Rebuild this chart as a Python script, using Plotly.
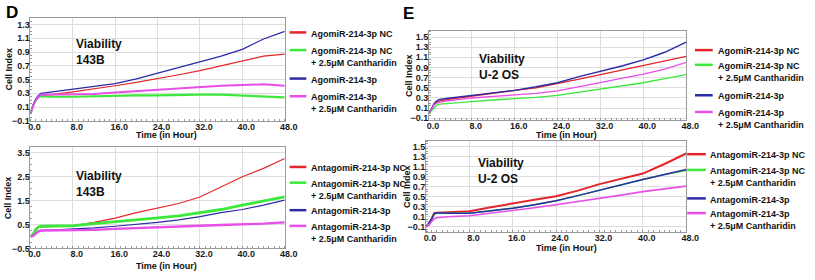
import plotly.graph_objects as go

# ---------------- data ----------------
hours = [0, 0.5, 1, 1.5, 2, 4, 8, 12, 16, 20, 24, 28, 32, 36, 40, 44, 48]

names_ago = ["AgomiR-214-3p NC", "AgomiR-214-3p NC<br>+ 2.5μM Cantharidin",
             "AgomiR-214-3p", "AgomiR-214-3p<br>+ 2.5μM Cantharidin"]
names_anta = ["AntagomiR-214-3p NC", "AntagomiR-214-3p NC<br>+ 2.5μM Cantharidin",
              "AntagomiR-214-3p", "AntagomiR-214-3p<br>+ 2.5μM Cantharidin"]

# Panel D top (143B, agomiR)
d_top_nc = [0.0, 0.12, 0.2, 0.25, 0.27, 0.28, 0.32, 0.36, 0.41, 0.46, 0.51, 0.57, 0.63, 0.70, 0.78, 0.84, 0.87]
d_top_nc_c = [0.0, 0.12, 0.2, 0.24, 0.26, 0.25, 0.25, 0.26, 0.26, 0.27, 0.27, 0.28, 0.28, 0.28, 0.27, 0.25, 0.24]
d_top_mi = [0.0, 0.13, 0.22, 0.27, 0.30, 0.32, 0.35, 0.40, 0.44, 0.51, 0.59, 0.67, 0.75, 0.84, 0.94, 1.09, 1.20]
d_top_mi_c = [0.0, 0.12, 0.2, 0.25, 0.28, 0.28, 0.28, 0.29, 0.31, 0.33, 0.36, 0.38, 0.40, 0.41, 0.42, 0.43, 0.41]

# Panel D bottom (143B, antagomiR)
d_bot_nc = [0.0, 0.1, 0.25, 0.38, 0.40, 0.42, 0.45, 0.59, 0.77, 1.0, 1.2, 1.38, 1.65, 2.06, 2.5, 2.85, 3.26]
d_bot_nc_c = [0.0, 0.1, 0.3, 0.40, 0.43, 0.44, 0.45, 0.54, 0.63, 0.70, 0.78, 0.86, 1.0, 1.13, 1.31, 1.49, 1.66]
d_bot_mi = [0.0, 0.05, 0.15, 0.23, 0.25, 0.27, 0.29, 0.36, 0.43, 0.50, 0.59, 0.70, 0.83, 1.0, 1.13, 1.31, 1.52]
d_bot_mi_c = [0.0, 0.03, 0.12, 0.22, 0.25, 0.25, 0.25, 0.28, 0.32, 0.36, 0.40, 0.43, 0.45, 0.48, 0.50, 0.54, 0.59]

# Panel E top (U-2 OS, agomiR)
e_top_nc = [0.0, 0.08, 0.18, 0.22, 0.24, 0.28, 0.34, 0.39, 0.45, 0.5, 0.58, 0.67, 0.76, 0.85, 0.93, 1.03, 1.12]
e_top_nc_c = [0.0, 0.06, 0.12, 0.16, 0.18, 0.2, 0.23, 0.26, 0.28, 0.31, 0.35, 0.41, 0.48, 0.54, 0.6, 0.68, 0.76]
e_top_mi = [0.0, 0.1, 0.2, 0.25, 0.27, 0.3, 0.35, 0.4, 0.45, 0.52, 0.6, 0.72, 0.82, 0.93, 1.05, 1.2, 1.4]
e_top_mi_c = [0.0, 0.08, 0.17, 0.2, 0.22, 0.25, 0.3, 0.33, 0.36, 0.39, 0.44, 0.52, 0.6, 0.68, 0.77, 0.87, 1.0]

# Panel E bottom (U-2 OS, antagomiR)
e_bot_nc = [-0.1, -0.05, 0.05, 0.17, 0.18, 0.19, 0.21, 0.29, 0.37, 0.44, 0.51, 0.62, 0.75, 0.85, 0.96, 1.15, 1.36]
e_bot_nc_c = [-0.1, -0.05, 0.05, 0.15, 0.17, 0.17, 0.17, 0.22, 0.27, 0.34, 0.42, 0.52, 0.63, 0.73, 0.84, 0.94, 1.02]
e_bot_mi = [-0.1, -0.03, 0.05, 0.16, 0.18, 0.17, 0.17, 0.22, 0.27, 0.34, 0.42, 0.52, 0.63, 0.74, 0.84, 0.94, 1.04]
e_bot_mi_c = [-0.1, -0.07, 0.0, 0.06, 0.08, 0.1, 0.12, 0.17, 0.23, 0.28, 0.34, 0.40, 0.47, 0.53, 0.6, 0.66, 0.71]

x_tickvals = [0, 8, 16, 24, 32, 40, 48]
x_ticktext = ["0.0", "8.0", "16.0", "24.0", "32.0", "40.0", "48.0"]

colors = ["#e3262b", "#3de83d", "#2b2ba6", "#e84ee8"]

# ---------------- layout geometry (pixels) ----------------
W, H = 815, 280
FONT = "Liberation Sans, Arial, sans-serif"

def px(x):
    return x / W

def py(y):
    return 1 - y / H

panels = [
    dict(ax="", x0=29, x1=288, yt=18, yb=123, yr=[-0.1, 1.4], dt=0.2, t0=-0.1,
         series=[d_top_nc, d_top_nc_c, d_top_mi, d_top_mi_c], widths=[1.2, 2.2, 1.3, 2.0],
         names=names_ago, label="Viability<br>143B", lx=73, ly=36,
         leg_line=(293, 310), leg_tx=313, leg_y=[33, 51, 80, 98], titley=137, titlex=168,
         cellx=7, celly=70),
    dict(ax="2", x0=29, x1=288, yt=150, yb=253, yr=[-0.5, 3.73], dt=1.0, t0=-0.5,
         series=[d_bot_nc, d_bot_nc_c, d_bot_mi, d_bot_mi_c], widths=[1.1, 2.8, 1.2, 2.4],
         names=names_anta, label="Viability<br>143B", lx=73, ly=170,
         leg_line=(293, 310), leg_tx=313, leg_y=[170, 186, 214, 230], titley=271, titlex=168,
         cellx=7, celly=201),
    dict(ax="3", x0=435, x1=697, yt=32, yb=122, yr=[-0.13, 1.61], dt=0.2, t0=-0.1,
         series=[e_top_nc, e_top_nc_c, e_top_mi, e_top_mi_c], widths=[1.3, 1.3, 1.4, 1.3],
         names=names_ago, label="Viability<br>U-2 OS", lx=484, ly=51,
         leg_line=(706, 724), leg_tx=727, leg_y=[51, 66, 97, 114], titley=137, titlex=575,
         cellx=414, celly=77),
    dict(ax="4", x0=432, x1=697, yt=144, yb=236, yr=[-0.2, 1.6], dt=0.2, t0=-0.1,
         series=[e_bot_nc, e_bot_nc_c, e_bot_mi, e_bot_mi_c], widths=[2.0, 1.5, 1.5, 1.6],
         names=names_anta, label="Viability<br>U-2 OS", lx=483, ly=157,
         leg_line=(698, 717), leg_tx=719, leg_y=[157, 173, 202, 217], titley=253, titlex=575,
         cellx=412, celly=190),
]

fig = go.Figure()
shapes = []
annotations = []

tickfont = dict(family=FONT, size=9, color="#1a1a1a", weight="bold")

for p in panels:
    xa = "x" + p["ax"]
    ya = "y" + p["ax"]
    for vals, c, w in zip(p["series"], colors, p["widths"]):
        fig.add_trace(go.Scatter(x=hours, y=vals, mode="lines", xaxis=xa, yaxis=ya,
                                 line=dict(color=c, width=w), showlegend=False,
                                 hoverinfo="skip"))
    axis_common = dict(showline=True, mirror=True, linecolor="#9a9a9a", linewidth=1,
                       showgrid=True, gridcolor="#dedede", gridwidth=1, zeroline=False,
                       ticks="", tickfont=tickfont)
    fig.update_layout(**{
        "xaxis" + p["ax"]: dict(axis_common, domain=[px(p["x0"]), px(p["x1"])], range=[0, 48],
                                 tickvals=x_tickvals, ticktext=x_ticktext, anchor=ya,
                                 minor=dict(ticks="inside", ticklen=2, tickcolor="#9a9a9a",
                                            dtick=1, tick0=0, showgrid=False),
                                 ticklabelstandoff=-3, ticklabelshift=4),
        "yaxis" + p["ax"]: dict(axis_common, domain=[py(p["yb"]), py(p["yt"])], range=p["yr"],
                                 dtick=p["dt"], tick0=p["t0"], tickformat=".1f", anchor=xa,
                                 minor=dict(ticks="inside", ticklen=2, tickcolor="#9a9a9a",
                                            dtick=p["dt"] / 4, tick0=p["t0"], showgrid=False),
                                 ticklabelstandoff=-2),
    })
    annotations.append(dict(x=px(p["lx"]), y=py(p["ly"]), xref="paper", yref="paper",
                            text=p["label"], showarrow=False, xanchor="left", yanchor="top",
                            align="left", font=dict(family=FONT, size=12, color="#111", weight="bold")))
    annotations.append(dict(x=px(p["titlex"]), y=py(p["titley"]), xref="paper", yref="paper",
                            text="Time (in Hour)", showarrow=False, xanchor="center", yanchor="middle",
                            font=dict(family=FONT, size=9, color="#111", weight="bold")))
    annotations.append(dict(x=px(p["cellx"]), y=py(p["celly"]), xref="paper", yref="paper",
                            text="Cell Index", showarrow=False, textangle=-90,
                            xanchor="center", yanchor="middle",
                            font=dict(family=FONT, size=9, color="#111", weight="bold")))
    for name, c, ly in zip(p["names"], colors, p["leg_y"]):
        shapes.append(dict(type="line", xref="paper", yref="paper",
                           x0=px(p["leg_line"][0]), x1=px(p["leg_line"][1]), y0=py(ly), y1=py(ly),
                           line=dict(color=c, width=2.5)))
        annotations.append(dict(x=px(p["leg_tx"]), y=py(ly - 6), xref="paper", yref="paper",
                                text=name, showarrow=False, xanchor="left", yanchor="top",
                                align="left", font=dict(family=FONT, size=9, color="#111", weight="bold")))

annotations.append(dict(x=px(2), y=py(1), xref="paper", yref="paper", text="D", showarrow=False,
                        xanchor="left", yanchor="top", font=dict(family=FONT, size=17, color="#000", weight="bold")))
annotations.append(dict(x=px(406), y=py(2), xref="paper", yref="paper", text="E", showarrow=False,
                        xanchor="left", yanchor="top", font=dict(family=FONT, size=17, color="#000", weight="bold")))

fig.update_layout(width=W, height=H, margin=dict(l=0, r=0, t=0, b=0),
                  paper_bgcolor="white", plot_bgcolor="white",
                  shapes=shapes, annotations=annotations, showlegend=False)

fig.write_html("out.html", config={"displayModeBar": False},
               post_script="document.body.style.margin='0';document.body.style.padding='0';"
                           "document.body.style.overflow='hidden';")
